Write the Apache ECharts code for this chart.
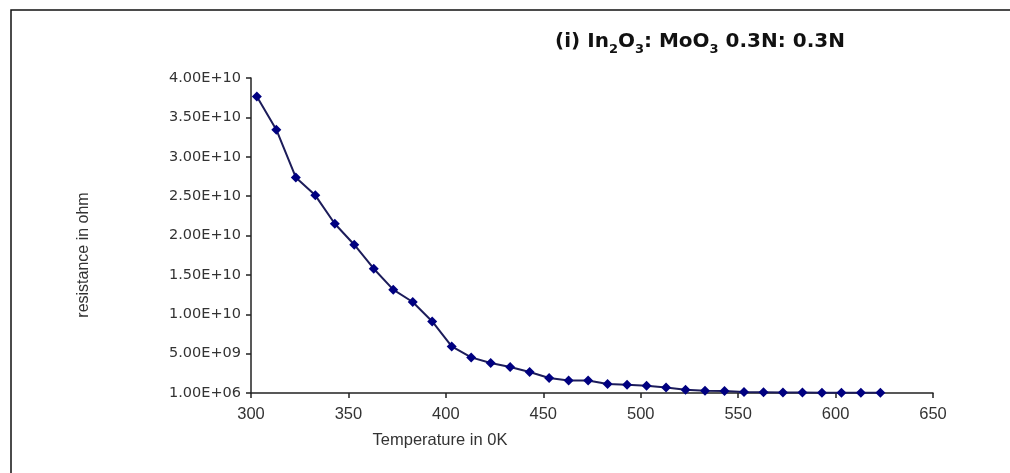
<!DOCTYPE html>
<html lang="en">
<head>
    <meta charset="UTF-8">
    <title>Resistance vs temperature</title>
    <script type="text/javascript" src="https://cdn.jsdelivr.net/npm/echarts@6/dist/echarts.min.js"></script>
    <style>
        html, body { margin: 0; padding: 0; background: #fff; }
    </style>
</head>
<body>
    <div id="main" style="width: 1010px; height: 473px;"></div>
    <script type="text/javascript">
        // temperature in K
        var temperature = [303, 313, 323, 333, 343, 353, 363, 373, 383, 393, 403,
            413, 423, 433, 443, 453, 463, 473, 483, 493, 503, 513,
            523, 533, 543, 553, 563, 573, 583, 593, 603, 613, 623];
        // resistance in ohm
        var resistance = [3.766e10, 3.344e10, 2.738e10, 2.51e10, 2.15e10, 1.883e10, 1.578e10, 1.312e10, 1.156e10, 9.09e9, 5.92e9,
            4.52e9, 3.81e9, 3.30e9, 2.67e9, 1.90e9, 1.60e9, 1.60e9, 1.14e9, 1.05e9, 9.3e8, 7.1e8,
            4.2e8, 2.9e8, 2.5e8, 1.3e8, 1.0e8, 6e7, 5e7, 4e7, 3e7, 3e7, 2e7];

        var myChart = echarts.init(document.getElementById('main'));

        var points = temperature.map(function (t, i) { return [t, resistance[i]]; });

        var option = {
            backgroundColor: '#fff',
            animation: false,
            title: {
                text: '{n|(i) In}{s|2}{n|O}{s|3}{n|: MoO}{s|3}{n| 0.3N: 0.3N}',
                left: 695,
                textAlign: 'center',
                top: 21,
                textStyle: {
                    rich: {
                        n: { fontFamily: 'DejaVu Sans', fontSize: 20, fontWeight: 'bold', color: '#111', lineHeight: 30, padding: [0, 0, 4, 0], verticalAlign: 'bottom' },
                        s: { fontFamily: 'DejaVu Sans', fontSize: 13, fontWeight: 'bold', color: '#111', lineHeight: 13, verticalAlign: 'bottom' }
                    }
                }
            },
            grid: { left: 251, right: 77, top: 78, bottom: 80 },
            xAxis: {
                type: 'value',
                min: 300,
                max: 650,
                interval: 50,
                splitLine: { show: false },
                axisLine: { lineStyle: { color: '#222', width: 1.5 } },
                axisTick: { inside: false, length: 5, lineStyle: { color: '#222', width: 1.5 } },
                axisLabel: { margin: 13, fontFamily: 'Liberation Sans', fontSize: 16.5, color: '#333' }
            },
            yAxis: {
                type: 'value',
                min: 1e6,
                max: 4.0001e10,
                interval: 5e9,
                splitLine: { show: false },
                axisLine: { show: true, lineStyle: { color: '#222', width: 1.5 } },
                axisTick: { show: true, length: 5, lineStyle: { color: '#222', width: 1.5 } },
                axisLabel: {
                    margin: 10,
                    fontFamily: 'DejaVu Sans',
                    fontSize: 14.5,
                    color: '#333',
                    formatter: function (v) {
                        var s = v.toExponential(2).toUpperCase();
                        return s.replace(/E([+-])(\d)$/, 'E$10$2');
                    }
                }
            },
            graphic: [
                {
                    type: 'rect',
                    shape: { x: 11, y: 10, width: 1100, height: 600 },
                    style: { fill: 'none', stroke: '#111', lineWidth: 1.5 },
                    silent: true
                },
                {
                    type: 'text',
                    x: 440,
                    y: 440,
                    style: {
                        text: 'Temperature in 0K',
                        fontFamily: 'Liberation Sans',
                        fontSize: 16.5,
                        fill: '#333',
                        align: 'center',
                        verticalAlign: 'middle'
                    }
                },
                {
                    type: 'text',
                    x: 84,
                    y: 255,
                    rotation: Math.PI / 2,
                    style: {
                        text: 'resistance in ohm',
                        fontFamily: 'Liberation Sans',
                        fontSize: 16,
                        fill: '#333',
                        align: 'center',
                        verticalAlign: 'middle'
                    }
                }
            ],
            series: [{
                type: 'line',
                data: points,
                symbol: 'diamond',
                symbolSize: 10,
                lineStyle: { color: '#1c1c5a', width: 2 },
                itemStyle: { color: '#000080' }
            }]
        };

        myChart.setOption(option);
    </script>
</body>
</html>
